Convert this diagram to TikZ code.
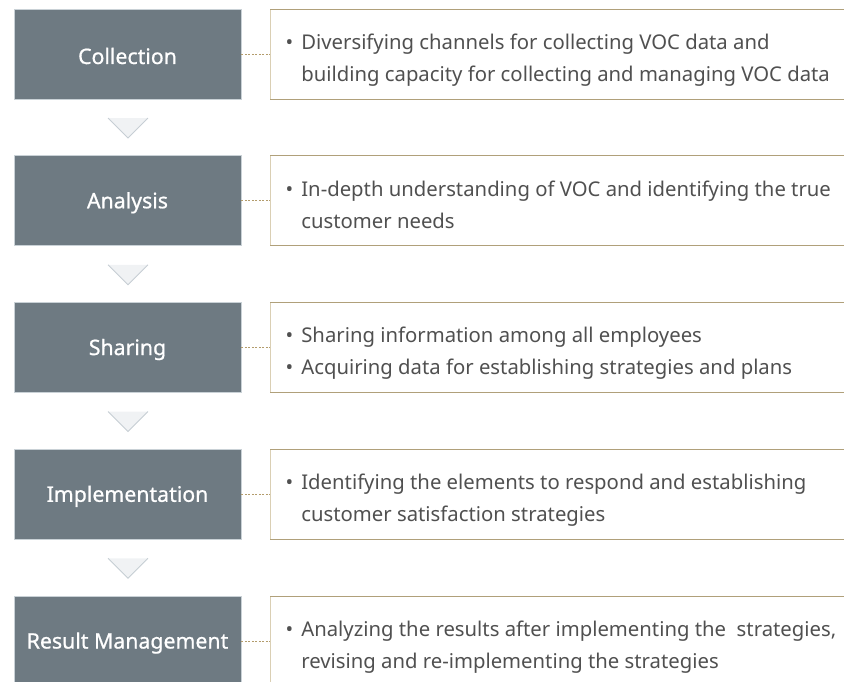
\documentclass[tikz,border=0pt]{standalone}
\usepackage{fontspec}
\setmainfont{Noto Sans}
\newfontfamily\labfam[FakeBold=0.8]{Noto Sans}
\definecolor{boxfill}{HTML}{6E7A82}
\definecolor{boxline}{HTML}{C9D1D6}
\definecolor{goldtop}{HTML}{B0A07A}
\definecolor{goldside}{HTML}{DACFB4}
\definecolor{dotline}{HTML}{B39C6C}
\definecolor{txtgray}{HTML}{505050}
\definecolor{chevfill}{HTML}{F0F2F4}
\definecolor{chevline}{HTML}{C6CED4}
\newcommand{\descfont}{\fontsize{20.3}{32}\selectfont}
\newcommand{\labfont}{\labfam\fontsize{21.3}{24}\selectfont}
\begin{document}
\begin{tikzpicture}[x=1pt,y=-1pt,
  stagebox/.style={draw=boxline, line width=0.8pt, fill=boxfill, minimum width=227pt, minimum height=90pt, inner sep=0pt, text=white},
  labtext/.style={inner sep=0pt, text=white, font=\labfont},
  descnode/.style={anchor=west, inner sep=0pt, text=txtgray, font=\descfont},
  dotconn/.style={dotline, line width=0.8pt, dash pattern=on 2pt off 1.5pt},
  chev/.style={fill=chevfill, draw=none}]
\useasboundingbox (0,0) rectangle (844,681);
\clip (0,0) rectangle (844,681);
\foreach \i/\lab in {0/Collection,1/Analysis,2/Sharing,3/Implementation,4/Result Management}{
  \pgfmathsetmacro{\top}{9+146.75*\i}
  \node[stagebox] (s\i) at (127.5,\top+45) {};
  \node[labtext] (l\i) at (127.5,\top+47) {\lab};
  \coordinate (r\i) at (270,\top+45);
  \fill[white] (270,\top) rectangle (850,\top+90);
  \draw[goldside, line width=1pt] (270,\top) -- (270,\top+90);
  \draw[goldtop, line width=1pt] (270,\top) -- (850,\top);
  \draw[goldtop, line width=1pt] (270,\top+90) -- (850,\top+90);
  \draw[dotconn] (s\i.east) -- (r\i);
}
\foreach \i in {0,1,2,3}{
  \pgfmathsetmacro{\cy}{118+146.75*\i}
  \coordinate (cl\i) at (108,\cy);
  \coordinate (cr\i) at (148,\cy);
  \coordinate (cb\i) at (128,\cy+20);
  \fill[chev] (cl\i) -- (cr\i) -- (cb\i) -- cycle;
  \draw[chevline, line width=0.8pt] (cl\i) -- (cb\i) -- (cr\i);
}
\node[descnode] (d0) at (285.5,59) {\begin{tabular}{@{}l@{\hspace{8pt}}l@{}}•&Diversifying channels for collecting VOC data and\\&building capacity for collecting and managing VOC data\end{tabular}};
\node[descnode] (d1) at (285.5,205.75) {\begin{tabular}{@{}l@{\hspace{8pt}}l@{}}•&In-depth understanding of VOC and identifying the true\\&customer needs\end{tabular}};
\node[descnode] (d2) at (285.5,352.5) {\begin{tabular}{@{}l@{\hspace{8pt}}l@{}}•&Sharing information among all employees\\•&Acquiring data for establishing strategies and plans\end{tabular}};
\node[descnode] (d3) at (285.5,499.25) {\begin{tabular}{@{}l@{\hspace{8pt}}l@{}}•&Identifying the elements to respond and establishing\\&customer satisfaction strategies\end{tabular}};
\node[descnode] (d4) at (285.5,646) {\begin{tabular}{@{}l@{\hspace{8pt}}l@{}}•&Analyzing the results after implementing the \ strategies,\\&revising and re-implementing the strategies\end{tabular}};
\end{tikzpicture}
\end{document}
